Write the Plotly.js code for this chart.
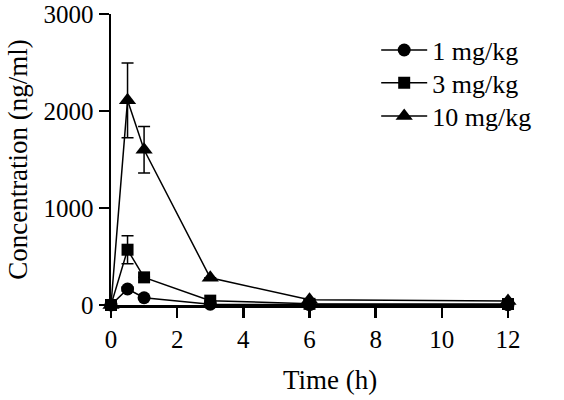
<!DOCTYPE html>
<html>
<head>
<meta charset="utf-8">
<script src="https://cdn.plot.ly/plotly-3.0.1.min.js"></script>
<style>html,body{margin:0;padding:0;background:#fff;}#chart{width:564px;height:400px;}</style>
</head>
<body>
<div id="chart"></div>
<script>
var time = [0, 0.5, 1, 3, 6, 12];
var seriesNames = ["1 mg/kg", "3 mg/kg", "10 mg/kg"];
var conc1 = [0, 165, 75, 8, 4, 3];
var conc3 = [0, 570, 285, 45, 12, 10];
var conc10 = [0, 2110, 1600, 280, 55, 42];
var sd1 = [0, 20, 10, 0, 0, 0];
var sd3 = [0, 145, 0, 0, 0, 0];
var sd10 = [0, 385, 240, 0, 0, 0];
var xTicks = [0, 2, 4, 6, 8, 10, 12];
var yTicks = [0, 1000, 2000, 3000];
var xTitle = "Time (h)";
var yTitle = "Concentration (ng/ml)";
var symbols = ["circle", "square", "triangle-up"];
var markerSizes = [13, 12, 15];

var concs = [conc1, conc3, conc10];
var sds = [sd1, sd3, sd10];
var legendIds = ["legend", "legend2", "legend3"];
var traces = seriesNames.map(function(name, i){
  return {
    x: time, y: concs[i], name: name, type: "scatter", mode: "lines+markers",
    line: {color: "#000", width: 1.5},
    marker: {symbol: symbols[i], size: markerSizes[i], color: "#000"},
    error_y: {type: "data", array: sds[i], visible: true, color: "#000", thickness: 1.5, width: 6},
    cliponaxis: false,
    legend: legendIds[i]
  };
});

var fontFam = "Liberation Serif, Times New Roman, serif";
function leg(yc){
  return {x: 0.668, y: yc, xanchor: "left", yanchor: "middle", itemwidth: 46,
          font: {family: fontFam, size: 26, color: "#000"}, bgcolor: "rgba(0,0,0,0)"};
}
var layout = {
  width: 564, height: 400,
  margin: {l: 111, r: 56, t: 14, b: 95},
  paper_bgcolor: "#fff", plot_bgcolor: "#fff",
  font: {family: fontFam, size: 25, color: "#000"},
  showlegend: true,
  legend: leg(0.876),
  legend2: leg(0.763),
  legend3: leg(0.649),
  xaxis: {
    range: [0, 12], tickvals: xTicks, ticktext: xTicks.map(String),
    showline: true, linecolor: "#000", linewidth: 2.5, ticks: "outside", ticklen: 10, tickwidth: 2.5, tickcolor: "#000",
    showgrid: false, zeroline: false, tickfont: {size: 25}
  },
  yaxis: {
    range: [0, 3000], tickvals: yTicks, ticktext: yTicks.map(String),
    showline: true, linecolor: "#000", linewidth: 2.5, ticks: "outside", ticklen: 10, tickwidth: 2.5, tickcolor: "#000",
    showgrid: false, zeroline: false, tickfont: {size: 25},
    title: {text: yTitle, font: {size: 27}, standoff: 8}
  },
  annotations: [{
    text: xTitle, xref: "paper", yref: "paper", x: 0.552, y: -0.258,
    xanchor: "center", yanchor: "middle", showarrow: false, font: {size: 27}
  }]
};
Plotly.newPlot("chart", traces, layout, {displayModeBar: false, staticPlot: true});
</script>
</body>
</html>
